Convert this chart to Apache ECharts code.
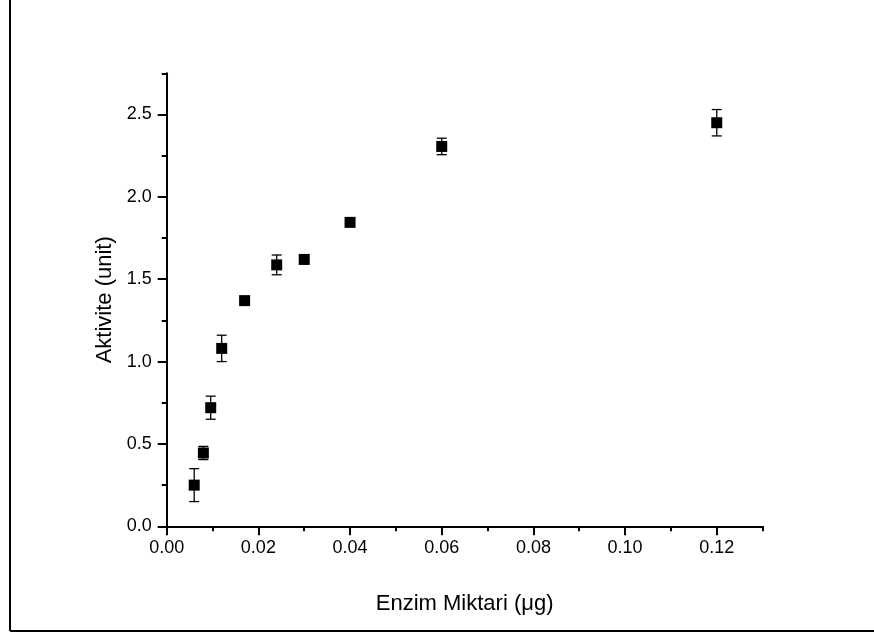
<!DOCTYPE html>
<html>
<head>
<meta charset="utf-8">
<script src="https://cdn.jsdelivr.net/npm/echarts@6/dist/echarts.min.js"></script>
<style>
html,body{margin:0;padding:0;background:#fff;}
#chart{width:874px;height:635px;}
</style>
</head>
<body>
<div id="chart"></div>
<script>
// Data
var enzymeAmount = [0.006, 0.008, 0.0096, 0.012, 0.017, 0.024, 0.030, 0.040, 0.060, 0.120];
var activity     = [0.25, 0.445, 0.72, 1.08, 1.37, 1.587, 1.62, 1.845, 2.306, 2.45];
var activityErr  = [0.10, 0.04, 0.07, 0.08, 0.01, 0.06, 0.01, 0.01, 0.05, 0.08];

var xMajorTicks = [0, 0.02, 0.04, 0.06, 0.08, 0.10, 0.12];
var xMinorTicks = [0.01, 0.03, 0.05, 0.07, 0.09, 0.11, 0.13];
var yMajorTicks = [0, 0.5, 1.0, 1.5, 2.0, 2.5];
var yMinorTicks = [0.25, 0.75, 1.25, 1.75, 2.25, 2.75];

var xTitle = 'Enzim Miktari (\u03bcg)';
var yTitle = 'Aktivite (unit)';

var FONT = '"Liberation Sans", Arial, Helvetica, sans-serif';

var points = enzymeAmount.map(function (x, i) { return [x, activity[i]]; });
var errData = enzymeAmount.map(function (x, i) { return [x, activity[i] - activityErr[i], activity[i] + activityErr[i]]; });

var chart = echarts.init(document.getElementById('chart'), null, {renderer: 'canvas'});

var axisLineStyle = {color: '#000', width: 2};

function baseX(extra) {
  return Object.assign({
    type: 'value', min: 0, max: 0.13, interval: 0.01,
    splitLine: {show: false}
  }, extra);
}
function baseY(extra) {
  return Object.assign({
    type: 'value', min: 0, max: 2.75, interval: 0.25,
    splitLine: {show: false}
  }, extra);
}

var option = {
  backgroundColor: '#fff',
  animation: false,
  grid: {left: 166.7, right: 111.4, top: 73.3, bottom: 108.7, containLabel: false},
  xAxis: [
    baseX({
      position: 'bottom',
      name: xTitle, nameLocation: 'middle', nameGap: 67,
      nameTextStyle: {fontFamily: FONT, fontSize: 22, color: '#000'},
      axisLine: {show: true, lineStyle: axisLineStyle},
      axisTick: {show: true, inside: false, length: 9, lineStyle: {color: '#000', width: 2}, customValues: xMajorTicks},
      axisLabel: {show: true, margin: 13, fontFamily: FONT, fontSize: 18, color: '#000', customValues: xMajorTicks,
        formatter: function (v) { return v.toFixed(2); }}
    }),
    baseX({
      position: 'bottom',
      axisLine: {show: false},
      axisTick: {show: true, inside: false, length: 5, lineStyle: {color: '#000', width: 2}, customValues: xMinorTicks},
      axisLabel: {show: false}
    })
  ],
  yAxis: [
    baseY({
      position: 'left',
      name: yTitle, nameLocation: 'middle', nameGap: 51, nameRotate: 90,
      nameTextStyle: {fontFamily: FONT, fontSize: 22, color: '#000'},
      axisLine: {show: true, lineStyle: axisLineStyle},
      axisTick: {show: true, inside: false, length: 9, lineStyle: {color: '#000', width: 2}, customValues: yMajorTicks},
      axisLabel: {show: true, margin: 15, fontFamily: FONT, fontSize: 18, color: '#000', customValues: yMajorTicks,
        formatter: function (v) { return v.toFixed(1); }}
    }),
    baseY({
      position: 'left',
      axisLine: {show: false},
      axisTick: {show: true, inside: false, length: 5, lineStyle: {color: '#000', width: 2}, customValues: yMinorTicks},
      axisLabel: {show: false}
    })
  ],
  graphic: [
    {type: 'line', silent: true, shape: {x1: 10, y1: 0, x2: 10, y2: 631}, style: {stroke: '#000', lineWidth: 2}},
    {type: 'line', silent: true, shape: {x1: 10, y1: 631, x2: 874, y2: 631}, style: {stroke: '#000', lineWidth: 2}}
  ],
  series: [
    {
      type: 'custom',
      xAxisIndex: 0, yAxisIndex: 0,
      data: errData,
      z: 2,
      renderItem: function (params, api) {
        var x = api.value(0);
        var lo = api.coord([x, api.value(1)]);
        var hi = api.coord([x, api.value(2)]);
        var half = 5;
        var st = {stroke: '#000', lineWidth: 1.3};
        return {
          type: 'group',
          children: [
            {type: 'line', shape: {x1: lo[0], y1: lo[1], x2: hi[0], y2: hi[1]}, style: st},
            {type: 'line', shape: {x1: lo[0] - half, y1: lo[1], x2: lo[0] + half, y2: lo[1]}, style: st},
            {type: 'line', shape: {x1: hi[0] - half, y1: hi[1], x2: hi[0] + half, y2: hi[1]}, style: st}
          ]
        };
      }
    },
    {
      type: 'scatter',
      xAxisIndex: 0, yAxisIndex: 0,
      data: points,
      symbol: 'rect',
      symbolSize: 11,
      itemStyle: {color: '#000', opacity: 1},
      emphasis: {disabled: true},
      z: 3
    }
  ]
};
chart.setOption(option);
</script>
</body>
</html>
